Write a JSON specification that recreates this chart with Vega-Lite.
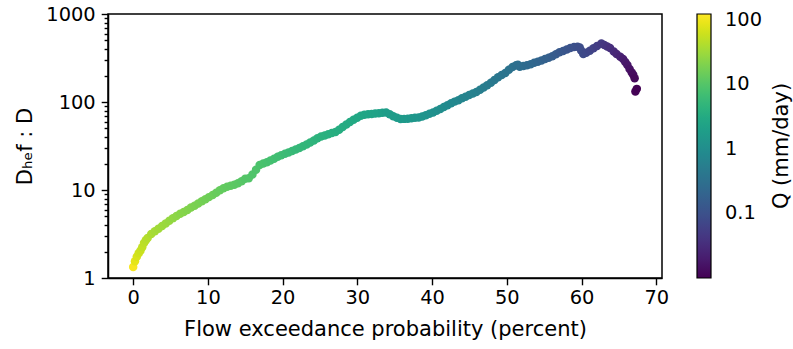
{
  "$schema": "https://vega.github.io/schema/vega-lite/v6.json",
  "width": 554,
  "height": 264,
  "autosize": {"type": "none"},
  "padding": {"left": 108, "top": 14, "right": 131, "bottom": 71},
  "background": "white",
  "title": {
    "text": "Q (mm/day)",
    "orient": "right",
    "angle": -90,
    "anchor": "middle",
    "frame": "group",
    "baseline": "alphabetic",
    "offset": 4,
    "font": "DejaVu Sans",
    "fontSize": 21,
    "fontWeight": "normal",
    "color": "black"
  },
  "config": {
    "font": "DejaVu Sans",
    "view": {"stroke": "black", "strokeWidth": 1.5},
    "axis": {
      "grid": false,
      "domainColor": "black",
      "domainWidth": 1.5,
      "tickColor": "black",
      "tickWidth": 1.4,
      "labelColor": "black",
      "titleColor": "black",
      "labelFont": "DejaVu Sans",
      "titleFont": "DejaVu Sans",
      "labelFontSize": 19.4,
      "titleFontSize": 21,
      "titleFontWeight": "normal"
    },
    "legend": {
      "labelFont": "DejaVu Sans",
      "titleFont": "DejaVu Sans"
    }
  },
  "data": {
    "values": [
      {"p": 0, "r": 1.33, "q": 111},
      {"p": 0.24, "r": 1.55, "q": 85},
      {"p": 0.48, "r": 1.74, "q": 72},
      {"p": 0.73, "r": 1.91, "q": 63},
      {"p": 0.97, "r": 2.04, "q": 58},
      {"p": 1.21, "r": 2.24, "q": 52},
      {"p": 1.45, "r": 2.5, "q": 48},
      {"p": 1.69, "r": 2.69, "q": 45},
      {"p": 1.93, "r": 2.85, "q": 42},
      {"p": 2.42, "r": 3.16, "q": 38},
      {"p": 2.9, "r": 3.39, "q": 35},
      {"p": 3.38, "r": 3.63, "q": 33},
      {"p": 3.87, "r": 3.89, "q": 31},
      {"p": 4.35, "r": 4.17, "q": 29.7},
      {"p": 4.84, "r": 4.47, "q": 28},
      {"p": 5.32, "r": 4.79, "q": 26},
      {"p": 5.8, "r": 5.08, "q": 24.5},
      {"p": 6.29, "r": 5.37, "q": 23},
      {"p": 6.77, "r": 5.64, "q": 22},
      {"p": 7.25, "r": 5.93, "q": 21},
      {"p": 7.74, "r": 6.31, "q": 20},
      {"p": 8.22, "r": 6.61, "q": 19},
      {"p": 8.7, "r": 7.01, "q": 18},
      {"p": 9.19, "r": 7.45, "q": 17},
      {"p": 9.67, "r": 7.85, "q": 16.5},
      {"p": 10.15, "r": 8.3, "q": 15.5},
      {"p": 10.64, "r": 8.77, "q": 15},
      {"p": 11.12, "r": 9.33, "q": 14},
      {"p": 11.6, "r": 9.91, "q": 13.5},
      {"p": 12.09, "r": 10.5, "q": 13},
      {"p": 12.57, "r": 10.9, "q": 12.4},
      {"p": 13.05, "r": 11.2, "q": 12},
      {"p": 13.54, "r": 11.5, "q": 11.5},
      {"p": 14.02, "r": 11.9, "q": 11},
      {"p": 14.51, "r": 12.6, "q": 10.6},
      {"p": 14.99, "r": 13.4, "q": 10.1},
      {"p": 15.47, "r": 13.6, "q": 9.7},
      {"p": 15.96, "r": 15.0, "q": 9.3},
      {"p": 16.44, "r": 17.0, "q": 9.0},
      {"p": 16.92, "r": 19.2, "q": 8.6},
      {"p": 17.41, "r": 20.0, "q": 8.3},
      {"p": 17.89, "r": 20.7, "q": 7.9},
      {"p": 18.37, "r": 21.6, "q": 7.6},
      {"p": 18.86, "r": 22.7, "q": 7.2},
      {"p": 19.34, "r": 23.9, "q": 6.9},
      {"p": 19.82, "r": 24.9, "q": 6.6},
      {"p": 20.31, "r": 25.8, "q": 6.3},
      {"p": 20.79, "r": 26.7, "q": 6.0},
      {"p": 21.27, "r": 27.7, "q": 5.8},
      {"p": 21.76, "r": 28.9, "q": 5.6},
      {"p": 22.24, "r": 30.1, "q": 5.4},
      {"p": 22.72, "r": 31.4, "q": 5.2},
      {"p": 23.21, "r": 32.8, "q": 5.0},
      {"p": 23.69, "r": 34.7, "q": 4.8},
      {"p": 24.18, "r": 36.6, "q": 4.6},
      {"p": 24.66, "r": 38.7, "q": 4.4},
      {"p": 25.14, "r": 40.5, "q": 4.2},
      {"p": 25.63, "r": 41.7, "q": 4.0},
      {"p": 26.11, "r": 43.0, "q": 3.9},
      {"p": 26.59, "r": 44.3, "q": 3.75},
      {"p": 27.08, "r": 45.7, "q": 3.6},
      {"p": 27.56, "r": 48.4, "q": 3.45},
      {"p": 28.04, "r": 51.9, "q": 3.3},
      {"p": 28.53, "r": 55.6, "q": 3.2},
      {"p": 29.01, "r": 59.3, "q": 3.1},
      {"p": 29.49, "r": 62.8, "q": 2.95},
      {"p": 29.98, "r": 66.1, "q": 2.8},
      {"p": 30.46, "r": 69.7, "q": 2.7},
      {"p": 30.94, "r": 71.6, "q": 2.6},
      {"p": 31.43, "r": 72.4, "q": 2.5},
      {"p": 31.91, "r": 73.1, "q": 2.4},
      {"p": 32.39, "r": 74.1, "q": 2.3},
      {"p": 32.88, "r": 74.6, "q": 2.2},
      {"p": 33.36, "r": 75.3, "q": 2.05},
      {"p": 33.85, "r": 75.9, "q": 1.94},
      {"p": 34.33, "r": 72.4, "q": 1.87},
      {"p": 34.81, "r": 68.7, "q": 1.8},
      {"p": 35.3, "r": 66.1, "q": 1.74},
      {"p": 35.78, "r": 64.1, "q": 1.68},
      {"p": 36.26, "r": 64.3, "q": 1.62},
      {"p": 36.75, "r": 64.7, "q": 1.56},
      {"p": 37.23, "r": 65.3, "q": 1.5},
      {"p": 37.71, "r": 66.1, "q": 1.44},
      {"p": 38.2, "r": 66.5, "q": 1.38},
      {"p": 38.68, "r": 68.4, "q": 1.33},
      {"p": 39.16, "r": 70.8, "q": 1.25},
      {"p": 39.65, "r": 73.5, "q": 1.18},
      {"p": 40.13, "r": 75.9, "q": 1.12},
      {"p": 40.61, "r": 79.4, "q": 1.06},
      {"p": 41.1, "r": 83.2, "q": 1.0},
      {"p": 41.58, "r": 87.7, "q": 0.95},
      {"p": 42.06, "r": 92.0, "q": 0.9},
      {"p": 42.55, "r": 96.6, "q": 0.85},
      {"p": 43.03, "r": 101, "q": 0.81},
      {"p": 43.52, "r": 105, "q": 0.76},
      {"p": 44.0, "r": 110, "q": 0.72},
      {"p": 44.48, "r": 115, "q": 0.68},
      {"p": 44.97, "r": 120, "q": 0.64},
      {"p": 45.45, "r": 125, "q": 0.61},
      {"p": 45.93, "r": 130, "q": 0.58},
      {"p": 46.42, "r": 138, "q": 0.55},
      {"p": 46.9, "r": 146, "q": 0.52},
      {"p": 47.38, "r": 155, "q": 0.49},
      {"p": 47.87, "r": 165, "q": 0.46},
      {"p": 48.35, "r": 178, "q": 0.43},
      {"p": 48.83, "r": 191, "q": 0.41},
      {"p": 49.32, "r": 203, "q": 0.39},
      {"p": 49.8, "r": 214, "q": 0.37},
      {"p": 50.28, "r": 232, "q": 0.35},
      {"p": 50.77, "r": 250, "q": 0.33},
      {"p": 51.25, "r": 262, "q": 0.31},
      {"p": 51.49, "r": 265, "q": 0.3},
      {"p": 51.73, "r": 252, "q": 0.29},
      {"p": 52.22, "r": 257, "q": 0.275},
      {"p": 52.7, "r": 262, "q": 0.26},
      {"p": 53.19, "r": 269, "q": 0.245},
      {"p": 53.67, "r": 279, "q": 0.23},
      {"p": 54.15, "r": 286, "q": 0.215},
      {"p": 54.64, "r": 297, "q": 0.2},
      {"p": 55.12, "r": 308, "q": 0.185},
      {"p": 55.6, "r": 319, "q": 0.172},
      {"p": 56.09, "r": 331, "q": 0.16},
      {"p": 56.57, "r": 349, "q": 0.148},
      {"p": 57.05, "r": 367, "q": 0.137},
      {"p": 57.54, "r": 380, "q": 0.127},
      {"p": 58.02, "r": 395, "q": 0.118},
      {"p": 58.5, "r": 410, "q": 0.109},
      {"p": 58.99, "r": 422, "q": 0.101},
      {"p": 59.47, "r": 425, "q": 0.094},
      {"p": 59.76, "r": 415, "q": 0.089},
      {"p": 59.95, "r": 385, "q": 0.086},
      {"p": 60.24, "r": 350, "q": 0.082},
      {"p": 60.63, "r": 362, "q": 0.077},
      {"p": 61.11, "r": 382, "q": 0.07},
      {"p": 61.6, "r": 407, "q": 0.062},
      {"p": 62.08, "r": 432, "q": 0.055},
      {"p": 62.66, "r": 462, "q": 0.048},
      {"p": 63.05, "r": 445, "q": 0.043},
      {"p": 63.44, "r": 427, "q": 0.039},
      {"p": 63.82, "r": 411, "q": 0.035},
      {"p": 64.31, "r": 376, "q": 0.031},
      {"p": 64.69, "r": 351, "q": 0.027},
      {"p": 65.18, "r": 327, "q": 0.024},
      {"p": 65.56, "r": 309, "q": 0.021},
      {"p": 65.85, "r": 285, "q": 0.019},
      {"p": 66.14, "r": 263, "q": 0.0172},
      {"p": 66.43, "r": 237, "q": 0.0155},
      {"p": 66.72, "r": 216, "q": 0.0138},
      {"p": 66.92, "r": 204, "q": 0.0127},
      {"p": 67.11, "r": 186, "q": 0.0117},
      {"p": 67.21, "r": 132, "q": 0.0106},
      {"p": 67.4, "r": 141, "q": 0.0101}
    ]
  },
  "mark": {"type": "circle", "size": 72, "opacity": 1},
  "encoding": {
    "x": {
      "field": "p",
      "type": "quantitative",
      "scale": {"domain": [-3.37, 70.77], "nice": false, "zero": false},
      "axis": {
        "title": "Flow exceedance probability (percent)",
        "values": [0, 10, 20, 30, 40, 50, 60, 70],
        "tickSize": 6.8,
        "labelPadding": 4,
        "titlePadding": 11,
        "format": "d"
      }
    },
    "y": {
      "field": "r",
      "type": "quantitative",
      "scale": {"type": "log", "domain": [1, 1000], "nice": false},
      "axis": {
        "title": "Dₕₑf : D",
        "values": [1, 2, 3, 4, 5, 6, 7, 8, 9, 10, 20, 30, 40, 50, 60, 70, 80, 90, 100, 200, 300, 400, 500, 600, 700, 800, 900, 1000],
        "format": "d",
        "labelExpr": "indexof([1, 10, 100, 1000], datum.value) >= 0 ? datum.label : ''",
        "labelOverlap": false,
        "tickSize": {"condition": {"test": "indexof([1, 10, 100, 1000], datum.value) >= 0", "value": 6.8}, "value": 3.9},
        "labelPadding": 6,
        "titlePadding": 10
      }
    },
    "color": {
      "field": "q",
      "type": "quantitative",
      "scale": {"type": "log", "domain": [0.01, 122], "scheme": "viridis"},
      "legend": {
        "title": null,
        "orient": "right",
        "direction": "vertical",
        "offset": 35,
        "padding": 0,
        "gradientLength": 264,
        "gradientThickness": 14,
        "gradientStrokeColor": "black",
        "gradientStrokeWidth": 1.2,
        "values": [0.1, 1, 10, 100],
        "format": "~g",
        "labelFontSize": 19.4,
        "labelColor": "black",
        "labelOffset": 14
      }
    }
  }
}
